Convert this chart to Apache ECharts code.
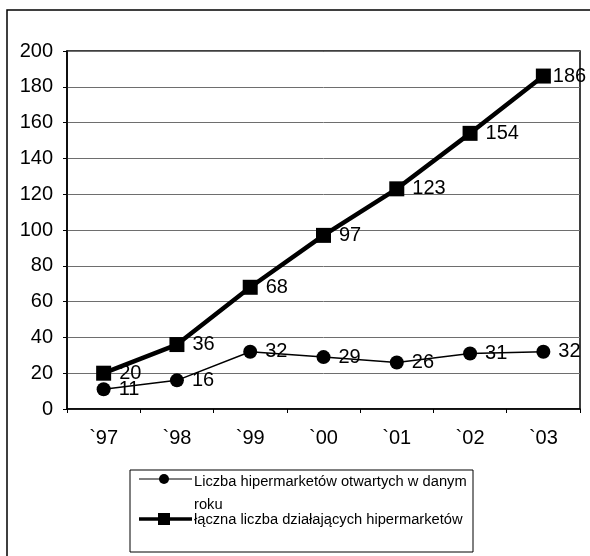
<!DOCTYPE html>
<html>
<head>
<meta charset="utf-8">
<script src="https://cdn.jsdelivr.net/npm/echarts@6/dist/echarts.min.js"></script>
<style>
  html, body { margin: 0; padding: 0; background: #fff; }
  #chart { width: 590px; height: 556px; }
</style>
</head>
<body>
<div id="chart"></div>
<script>
// Hypermarkets in Poland, 1997–2003
const years = ['`97', '`98', '`99', '`00', '`01', '`02', '`03'];
const openedPerYear = [11, 16, 32, 29, 26, 31, 32];
const totalOperating = [20, 36, 68, 97, 123, 154, 186];
const seriesNames = [
  'Liczba hipermarketów otwartych w danym roku',
  'łączna liczba działających hipermarketów'
];

const FONT = '"Liberation Sans", Arial, sans-serif';

const chart = echarts.init(document.getElementById('chart'), null, { renderer: 'canvas' });

const labelStyle = {
  show: true,
  position: 'right',
  distance: 8,
  color: '#000',
  fontFamily: FONT,
  fontSize: 20
};

// keep the last label tight against its marker so it stays inside the frame
const withTightLast = arr => arr.map((v, i) =>
  i === arr.length - 1 ? { value: v, label: { distance: 2 } } : v);

chart.setOption({
  backgroundColor: '#fff',
  animation: false,
  grid: { left: 67, right: 10, top: 51, bottom: 147, show: true, borderColor: '#000', borderWidth: 1.5 },
  xAxis: {
    type: 'category',
    data: years,
    boundaryGap: true,
    axisLine: { lineStyle: { color: '#000', width: 1.5 } },
    axisTick: { show: true, length: 4, lineStyle: { color: '#000' } },
    axisLabel: { color: '#000', fontFamily: FONT, fontSize: 20, margin: 19 }
  },
  yAxis: {
    type: 'value',
    min: 0,
    max: 200,
    interval: 20,
    axisLine: { show: true, lineStyle: { color: '#000', width: 1.5 } },
    axisTick: { show: true, length: 4, lineStyle: { color: '#000' } },
    axisLabel: { color: '#000', fontFamily: FONT, fontSize: 20, margin: 14 },
    splitLine: { show: true, lineStyle: { color: '#6e6e6e', width: 1 } }
  },
  series: [
    {
      name: seriesNames[0],
      type: 'line',
      data: openedPerYear,
      symbol: 'circle',
      symbolSize: 14,
      itemStyle: { color: '#000' },
      lineStyle: { color: '#000', width: 1.5 },
      label: labelStyle,
      z: 3
    },
    {
      name: seriesNames[1],
      type: 'line',
      data: withTightLast(totalOperating),
      symbol: 'rect',
      symbolSize: 15,
      itemStyle: { color: '#000' },
      lineStyle: { color: '#000', width: 4.5 },
      label: labelStyle,
      z: 2
    }
  ],
  graphic: [
    // outer frame
    { type: 'rect', shape: { x: 7, y: 10, width: 600, height: 560 }, style: { fill: null, stroke: '#000', lineWidth: 1.5 }, silent: true },
    // legend box
    { type: 'rect', shape: { x: 130, y: 470, width: 343, height: 82 }, style: { fill: '#fff', stroke: '#000', lineWidth: 1 }, silent: true },
    // legend item 1
    { type: 'line', shape: { x1: 139, y1: 479, x2: 192, y2: 479 }, style: { stroke: '#000', lineWidth: 1.2 } },
    { type: 'circle', shape: { cx: 164, cy: 479, r: 5 }, style: { fill: '#000' } },
    { type: 'text', left: 194, top: 470, style: { text: 'Liczba hipermarketów otwartych w danym\nroku', fill: '#000', font: '14.7px ' + FONT, lineHeight: 23 } },
    // legend item 2
    { type: 'line', shape: { x1: 139, y1: 519, x2: 192, y2: 519 }, style: { stroke: '#000', lineWidth: 3.5 } },
    { type: 'rect', shape: { x: 158, y: 513, width: 12, height: 12 }, style: { fill: '#000' } },
    { type: 'text', left: 194, top: 512, style: { text: 'łączna liczba działających hipermarketów', fill: '#000', font: '14.7px ' + FONT } }
  ]
});
</script>
</body>
</html>
